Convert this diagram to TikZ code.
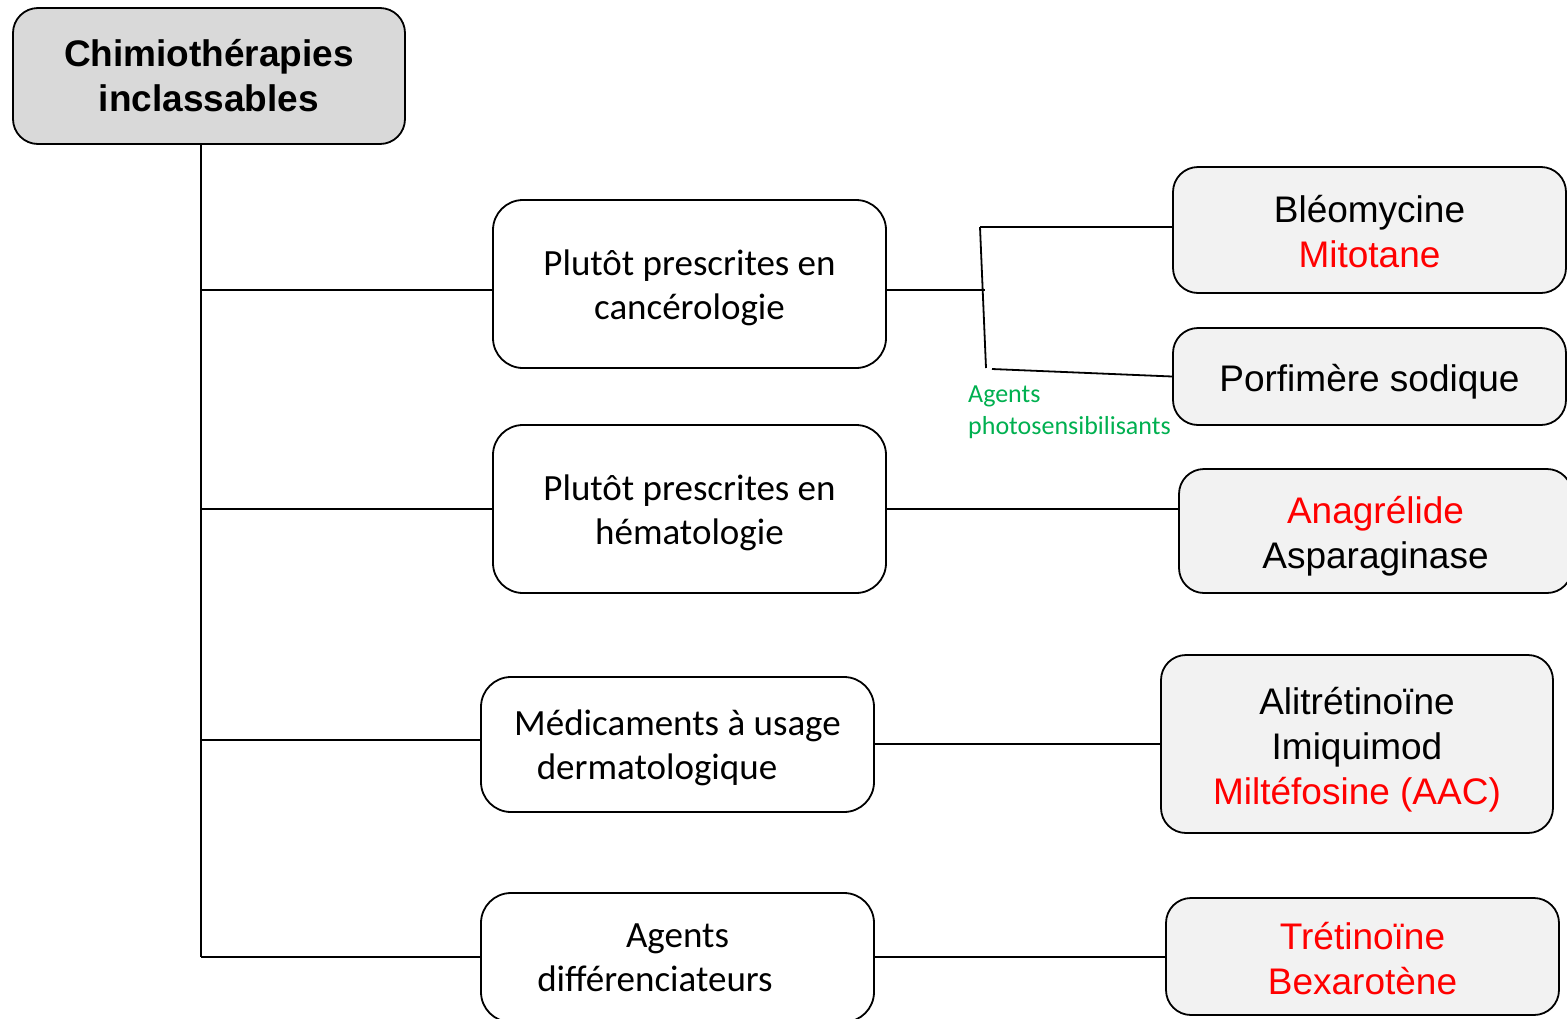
\documentclass[tikz,border=0pt]{standalone}
\usepackage{fontspec}
\newfontfamily\arialfont{Liberation Sans}
\newfontfamily\calfont{Carlito}
\definecolor{titlefill}{HTML}{D9D9D9}
\definecolor{drugfill}{HTML}{F2F2F2}
\definecolor{drugred}{HTML}{FF0000}
\definecolor{labgreen}{HTML}{00B050}
% centred stack of lines, set #1 lower than the middle of its box
\newcommand\lowstack[2]{\raisebox{0pt}[\dimexpr\height+#1\relax][\dimexpr\depth-#1\relax]{\begin{tabular}{@{}c@{}}#2\end{tabular}}}
\begin{document}
\begin{tikzpicture}[x=1pt,y=-1pt,
  box/.style={draw=black, line width=1.8pt, rounded corners=25pt, inner sep=0pt},
  titlebox/.style={box, fill=titlefill, align=center, font=\arialfont\bfseries\fontsize{37}{45}\selectfont},
  catbox/.style={box, fill=white, rounded corners=30pt, font=\calfont\fontsize{37}{44}\selectfont},
  drugbox/.style={box, fill=drugfill, font=\arialfont\fontsize{37}{45}\selectfont},
  link/.style={line width=1.8pt},
  note/.style={text=labgreen, inner sep=0pt, font=\calfont\fontsize{26}{32}\selectfont}]
\useasboundingbox (0,0) rectangle (1567,1018);
\fill[white] (0,0) rectangle (1567,1018);

% root
\node[titlebox, minimum width=392pt, minimum height=136pt] (title) at (209,76) {Chimiothérapies\\inclassables};

% categories
\node[catbox, minimum width=393pt, minimum height=168pt] (m1) at (689.5,284) {\lowstack{5pt}{Plutôt prescrites en\\cancérologie}};
\node[catbox, minimum width=393pt, minimum height=168pt] (m2) at (689.5,509) {\lowstack{5pt}{Plutôt prescrites en\\hématologie}};
\node[catbox, minimum width=393pt, minimum height=135pt] (m3) at (677.5,744.5) {\lowstack{4pt}{Médicaments à usage\\dermatologique\hspace*{41pt}}};
\node[catbox, minimum width=393pt, minimum height=129pt] (m4) at (677.5,957.5) {\lowstack{3pt}{Agents\\différenciateurs\hspace*{45pt}}};

% drugs
\node[drugbox, minimum width=393pt, minimum height=126pt] (r1) at (1369.5,230) {\lowstack{6pt}{Bléomycine\\\textcolor{drugred}{Mitotane}}};
\node[drugbox, minimum width=393pt, minimum height=97pt] (r2) at (1369.5,376.5) {\lowstack{6pt}{Porfimère sodique}};
\node[drugbox, minimum width=393pt, minimum height=124pt] (r3) at (1375.5,531) {\lowstack{6pt}{\textcolor{drugred}{Anagrélide}\\Asparaginase}};
\node[drugbox, minimum width=392pt, minimum height=178pt] (r4) at (1357,744) {\lowstack{6pt}{Alitrétinoïne\\Imiquimod\\\textcolor{drugred}{Miltéfosine (AAC)}}};
\node[drugbox, minimum width=393pt, minimum height=117pt] (r5) at (1362.5,956.5) {\lowstack{6pt}{\textcolor{drugred}{Trétinoïne}\\\textcolor{drugred}{Bexarotène}}};

% trunk and branches
\coordinate (t0) at (201,144);
\coordinate (b1) at (201,290);
\coordinate (b2) at (201,509);
\coordinate (b3) at (201,740);
\coordinate (b4) at (201,957);
\draw[link] (t0) -- (b4);
\draw[link] (b1) -- (b1 -| m1.west);
\draw[link] (b2) -- (b2 -| m2.west);
\draw[link] (b3) -- (b3 -| m3.west);
\draw[link] (b4) -- (b4 -| m4.west);

% oncology fork
\coordinate (k0) at (985,290);
\coordinate (k1) at (980,227);
\coordinate (k2) at (986,368);
\coordinate (k3) at (992,369);
\draw[link] (m1.east |- b1) -- (k0);
\draw[link] (k1) -- (k2);
\draw[link] (k1) -- (k1 -| r1.west);
\draw[link] (k3) -- (r2.west);
\node[note, anchor=base west] (g1) at (968,402) {Agents};
\node[note, anchor=base west] (g2) at (968,434) {photosensibilisants};

% other rows
\coordinate (c3) at (874,744);
\draw[link] (m2.east) -- (m2.east -| r3.west);
\draw[link] (m3.east |- c3) -- (r4.west |- c3);
\draw[link] (m4.east |- b4) -- (r5.west |- b4);
\end{tikzpicture}
\end{document}
